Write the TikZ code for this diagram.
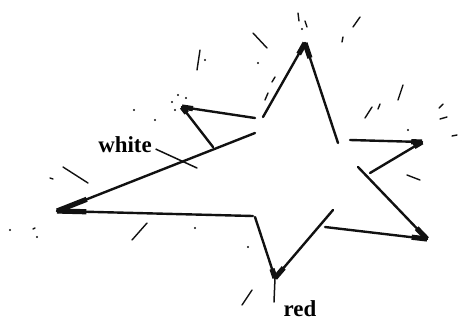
\documentclass[tikz,border=0pt]{standalone}
\usepackage{fontspec}
\setmainfont{Liberation Serif}
\usetikzlibrary{calc}
\definecolor{inkBlack}{HTML}{111111}

\begin{document}
\begin{tikzpicture}[x=1bp,y=-1bp,
  starLine/.style={inkBlack,line width=2.4bp,line cap=round},
  inkTip/.style={inkBlack,line width=5.2bp},
  rayLine/.style={inkBlack,line width=1.4bp,line cap=round},
  pointerLine/.style={inkBlack,line width=1.5bp,line cap=round},
  starLabel/.style={font=\fontsize{23}{23}\selectfont\bfseries,inner sep=0pt,anchor=base}]
\newcommand{\inkstroke}[2]{%
  \draw[starLine] (#1) -- (#2);
  \draw[inkTip] (#1) -- ($(#1)!0.15!(#2)$);
}
\useasboundingbox (0,0) rectangle (459,321);
% star tips
\coordinate (top) at (305,43);
\coordinate (right) at (422,142);
\coordinate (lowRight) at (427,239);
\coordinate (bottom) at (275,278);
\coordinate (left) at (57,211);
\coordinate (spur) at (182,107);
% loose stroke ends
\coordinate (topA) at (263,117);
\coordinate (topB) at (338,143);
\coordinate (rightA) at (350,140);
\coordinate (rightB) at (370,173);
\coordinate (lowA) at (358,167);
\coordinate (lowB) at (325,227);
\coordinate (botA) at (333,210);
\coordinate (botB) at (255,217);
\coordinate (leftA) at (253,216);
\coordinate (leftB) at (255,133);
\coordinate (spurA) at (255,118);
\coordinate (spurB) at (213,147);

\inkstroke{top}{topA}
\inkstroke{top}{topB}
\inkstroke{right}{rightA}
\inkstroke{right}{rightB}
\inkstroke{lowRight}{lowA}
\inkstroke{lowRight}{lowB}
\inkstroke{bottom}{botA}
\inkstroke{bottom}{botB}
\inkstroke{left}{leftA}
\inkstroke{left}{leftB}
\inkstroke{spur}{spurA}
\inkstroke{spur}{spurB}

% labels
\node[starLabel] (white) at (125,152) {white};
\node[starLabel] (red) at (300,316) {red};
\coordinate (whiteEnd) at (197,168);
\coordinate (redEnd) at (274,302);
\draw[pointerLine] (white.east) ++(4,5) -- (whiteEnd);
\draw[pointerLine] (bottom) -- (redEnd);

% rays
\foreach \xa/\ya/\xb/\yb in {200/50/197/70, 253/33/267/48, 298/13/299/21,
    305/21/307/27, 360/17/353/27, 343/37/342/42, 63/167/88/183,
    147/223/132/240, 252/290/242/305, 403/85/398/100, 372/107/365/118,
    380/104/378/109, 443/104/439/108, 447/117/440/119, 407/175/420/180,
    457/135/452/136, 275/77/272/82, 268/93/265/100, 50/178/53/179,
    33/229/35/228}
  \draw[rayLine] (\xa,\ya) -- (\xb,\yb);
\foreach \xd/\yd in {10/230, 37/237, 205/60, 258/63, 178/95, 172/102,
    186/98, 175/110, 134/110, 155/120, 195/228, 248/247, 408/130, 302/29}
  \fill[inkBlack] (\xd,\yd) circle (1.1bp);
\end{tikzpicture}
\end{document}
